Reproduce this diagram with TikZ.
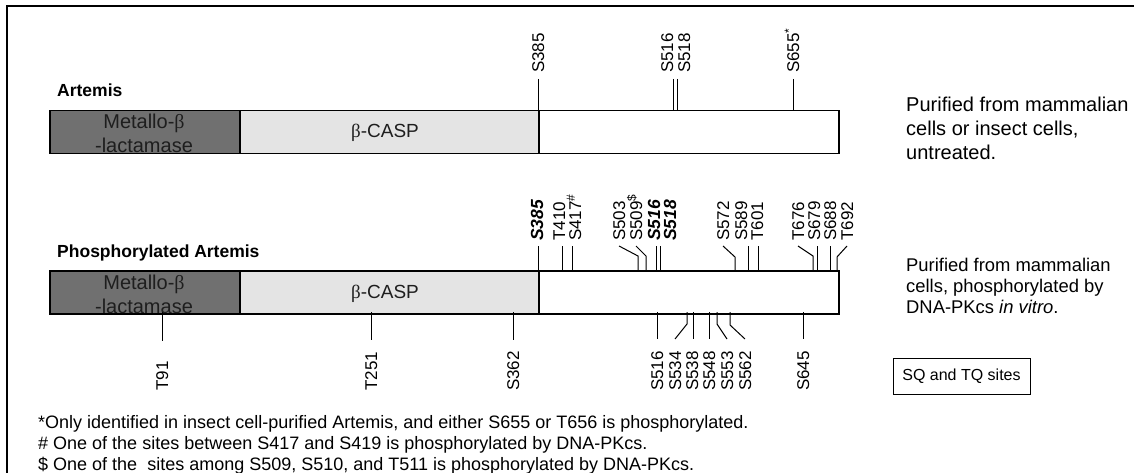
\documentclass[tikz,border=0pt]{standalone}
\usepackage{fontspec}
\setmainfont{Liberation Sans}
\newfontfamily\grk{Liberation Serif}
\newcommand\fsz[1]{\fontsize{#1}{#1}\selectfont}
\definecolor{darkseg}{RGB}{112,112,112}
\definecolor{lightseg}{RGB}{228,228,228}
\definecolor{segtext}{RGB}{30,30,30}
\begin{document}
\begin{tikzpicture}[x=1pt,y=-1pt,
  seg/.style={draw=black, line width=1.5pt, inner sep=0pt, anchor=north west, minimum height=43pt},
  lab/.style={font=\fsz{17}, rotate=90, inner sep=0pt, text height=12.2pt, text depth=0pt},
  toplab/.style={lab, anchor=west},
  botlab/.style={lab, anchor=west},
  bi/.style={font=\fsz{17.5}\bfseries\itshape},
  tick/.style={line width=1pt},
  title/.style={font=\fsz{17.5}\bfseries, anchor=base west, inner sep=0pt},
  note/.style={font=\fsz{18}, anchor=base west, inner sep=0pt},
  side/.style={font=\fsz{20}, anchor=base west, inner sep=0pt},
  sideb/.style={font=\fsz{18.4}, anchor=base west, inner sep=0pt},
  segtxt/.style={font=\fsz{20}, text=segtext, anchor=base, inner sep=0pt}
]
\useasboundingbox (0,0) rectangle (1134,473);
\draw[line width=2pt] (7,473) -- (7,6) -- (1134,6);

% ---------- Artemis (untreated) ----------
\node[title] (t1) at (57,97) {Artemis};
\node[seg, fill=darkseg, minimum width=190pt] (d1) at (49,110) {};
\node[seg, fill=lightseg, minimum width=299pt] (c1) at (239,110) {};
\node[seg, fill=white, minimum width=300pt] (w1) at (538,110) {};
\node[segtxt] (m1a) at (144,129) {Metallo-{\grk β}};
\node[segtxt] (m1b) at (144,153) {-lactamase};
\node[segtxt, font=\fsz{19}] (k1) at (385,138) {{\grk β}-CASP};

\node[toplab] (a385) at (538,73) {S385};
\node[toplab] (a516) at (667,73) {S516};
\node[toplab] (a518) at (684,73) {S518};
\node[toplab] (a655) at (793,73) {S655\textsuperscript{*}};
\coordinate (p385) at (538,110);
\coordinate (p516) at (673,110);
\coordinate (p518) at (677,110);
\coordinate (p655) at (793,110);
\draw[tick] (p385 |- 0,79) -- (p385);
\draw[tick] (p516 |- 0,79) -- (p516);
\draw[tick] (p518 |- 0,79) -- (p518);
\draw[tick] (p655 |- 0,79) -- (p655);

\node[side] (r1a) at (906,112) {Purified from mammalian};
\node[side] (r1b) at (906,136) {cells or insect cells,};
\node[side] (r1c) at (906,160) {untreated.};

% ---------- Phosphorylated Artemis ----------
\node[title] (t2) at (57,257) {Phosphorylated Artemis};
\node[seg, fill=darkseg, minimum width=190pt] (d2) at (49,270) {};
\node[seg, fill=lightseg, minimum width=299pt] (c2) at (239,270) {};
\node[seg, fill=white, minimum width=300pt] (w2) at (538,270) {};
\node[segtxt] (m2a) at (144,289) {Metallo-{\grk β}};
\node[segtxt] (m2b) at (144,313) {-lactamase};
\node[segtxt, font=\fsz{19}] (k2) at (385,298) {{\grk β}-CASP};

% top sites
\node[toplab, bi] (b385) at (537,241) {S385};
\node[toplab] (b410) at (559,241) {T410};
\node[toplab] (b417) at (575,241) {S417\textsuperscript{\#}};
\node[toplab] (b503) at (619,241) {S503};
\node[toplab] (b509) at (636,241) {S509\textsuperscript{\$}};
\node[toplab, bi] (b516) at (654,241) {S516};
\node[toplab, bi] (b518) at (670,241) {S518};
\node[toplab] (b572) at (723,241) {S572};
\node[toplab] (b589) at (741,241) {S589};
\node[toplab] (b601) at (757,241) {T601};
\node[toplab] (b676) at (798,241) {T676};
\node[toplab] (b679) at (814,241) {S679};
\node[toplab] (b688) at (830,241) {S688};
\node[toplab] (b692) at (847,241) {T692};

\coordinate (q385) at (538,270);
\coordinate (q410) at (562,270);
\coordinate (q417) at (572,270);
\coordinate (q503) at (638,270);
\coordinate (q509) at (646,270);
\coordinate (q516) at (656,270);
\coordinate (q518) at (660,270);
\coordinate (q572) at (735,270);
\coordinate (q589) at (748,270);
\coordinate (q601) at (758,270);
\coordinate (q676) at (813,270);
\coordinate (q679) at (817,270);
\coordinate (q688) at (830,270);
\coordinate (q692) at (837,270);

\draw[tick] (q385 |- 0,246) -- (q385);
\draw[tick] (q410 |- 0,246) -- (q410);
\draw[tick] (q417 |- 0,246) -- (q417);
\draw[tick] ([yshift=-5pt]b503.west) -- (q503 |- 0,256) -- (q503);
\draw[tick] ([yshift=-5pt]b509.west) -- (q509 |- 0,256) -- (q509);
\draw[tick] (q516 |- 0,246) -- (q516);
\draw[tick] (q518 |- 0,246) -- (q518);
\draw[tick] ([yshift=-5pt]b572.west) -- (q572 |- 0,257) -- (q572);
\draw[tick] (q589 |- 0,246) -- (q589);
\draw[tick] (q601 |- 0,246) -- (q601);
\draw[tick] ([yshift=-5pt]b676.west) -- (q676 |- 0,256) -- (q676);
\draw[tick] (q679 |- 0,246) -- (q679);
\draw[tick] (q688 |- 0,246) -- (q688);
\draw[tick] ([yshift=-5pt]b692.west) -- (q692 |- 0,257) -- (q692);

% bottom sites
\node[botlab] (c91) at (162,391) {T91};
\node[botlab] (c251) at (371,391) {T251};
\node[botlab] (c362) at (513,391) {S362};
\node[botlab] (c516) at (657,391) {S516};
\node[botlab] (c534) at (675,391) {S534};
\node[botlab] (c538) at (692,391) {S538};
\node[botlab] (c548) at (709,391) {S548};
\node[botlab] (c553) at (727,391) {S553};
\node[botlab] (c562) at (745,391) {S562};
\node[botlab] (c645) at (803,391) {S645};

\coordinate (s91) at (162,312);
\coordinate (s251) at (371,312);
\coordinate (s362) at (513,312);
\coordinate (s516) at (657,312);
\coordinate (s534) at (687,312);
\coordinate (s538) at (693,312);
\coordinate (s548) at (709,312);
\coordinate (s553) at (717,312);
\coordinate (s562) at (730,312);
\coordinate (s645) at (803,312);

\draw[tick] (s91) -- (s91 |- 0,341);
\draw[tick] (s251) -- (s251 |- 0,340);
\draw[tick] (s362) -- (s362 |- 0,340);
\draw[tick] (s516) -- (s516 |- 0,339);
\draw[tick] (s534) -- (s534 |- 0,324) -- (c534.west |- 0,339);
\draw[tick] (s538) -- (s538 |- 0,339);
\draw[tick] (s548) -- (s548 |- 0,339);
\draw[tick] (s553) -- (s553 |- 0,324) -- (c553.west |- 0,339);
\draw[tick] (s562) -- (s562 |- 0,325) -- (c562.west |- 0,339);
\draw[tick] (s645) -- (s645 |- 0,339);

\node[sideb] (r2a) at (906,271) {Purified from mammalian};
\node[sideb] (r2b) at (906,292) {cells, phosphorylated by};
\node[sideb] (r2c) at (906,313) {DNA-PKcs \textit{in vitro}.};

\node[draw=black, line width=0.8pt, minimum width=137pt, minimum height=36pt, inner sep=0pt, font=\fsz{16}] (leg) at (961.5,376) {SQ and TQ sites};

% footnotes
\node[note] (f1) at (38,428) {*Only identified in insect cell-purified Artemis, and either S655 or T656 is phosphorylated.};
\node[note] (f2) at (38,449) {\# One of the sites between S417 and S419 is phosphorylated by DNA-PKcs.};
\node[note] (f3) at (38,470) {\$ One of the~ sites among S509, S510, and T511 is phosphorylated by DNA-PKcs.};
\end{tikzpicture}
\end{document}
